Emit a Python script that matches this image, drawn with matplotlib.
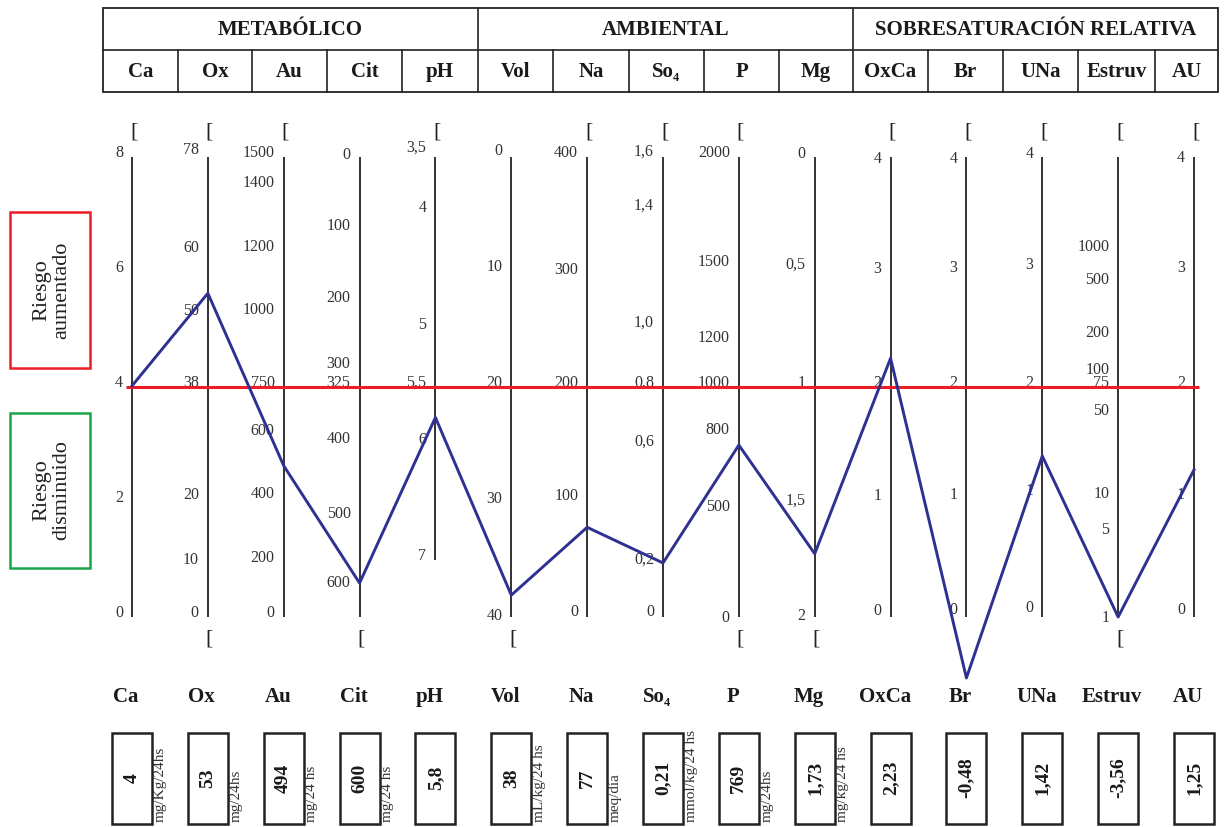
import matplotlib
matplotlib.use("Agg")
import matplotlib.pyplot as plt
import matplotlib.transforms as mtransforms
from matplotlib.patches import Rectangle

plt.rcParams['font.family'] = ['Liberation Serif', 'DejaVu Serif']

# --- data ---
params = ['Ca', 'Ox', 'Au', 'Cit', 'pH', 'Vol', 'Na', 'So₄', 'P', 'Mg',
          'OxCa', 'Br', 'UNa', 'Estruv', 'AU']
groups = ['METABÓLICO', 'AMBIENTAL', 'SOBRESATURACIÓN RELATIVA']
group_size = [5, 5, 5]
values_txt = ['4', '53', '494', '600', '5,8', '38', '77', '0,21', '769', '1,73',
              '2,23', '-0,48', '1,42', '-3,56', '1,25']
units = ['mg/Kg/24hs', 'mg/24hs', 'mg/24 hs', 'mg/24 hs', '', 'mL/kg/24 hs',
         'meq/día', 'mmol/kg/24 hs', 'mg/24hs', 'mg/kg/24 hs', '', '', '', '', '']

# patient profile on the common 0-8 risk scale
score = [4.02, 5.63, 2.63, 0.59, 3.47, 0.38, 1.56, 0.94, 2.99, 1.10,
         4.50, -1.06, 2.80, 0.0, 2.56]
threshold = 4

# scale labels of each parallel axis and where they sit on the 0-8 scale
tick_labels = [
    ['8', '6', '4', '2', '0'],
    ['78', '60', '50', '38', '20', '10', '0'],
    ['1500', '1400', '1200', '1000', '750', '600', '400', '200', '0'],
    ['0', '100', '200', '300', '325', '400', '500', '600'],
    ['3,5', '4', '5', '5,5', '6', '7'],
    ['0', '10', '20', '30', '40'],
    ['400', '300', '200', '100', '0'],
    ['1,6', '1,4', '1,0', '0,8', '0,6', '0,2', '0'],
    ['2000', '1500', '1200', '1000', '800', '500', '0'],
    ['0', '0,5', '1', '1,5', '2'],
    ['4', '3', '2', '1', '0'],
    ['4', '3', '2', '1', '0'],
    ['4', '3', '2', '1', '0'],
    ['1000', '500', '200', '100', '75', '50', '10', '5', '1'],
    ['4', '3', '2', '1', '0'],
]
tick_pos = [
    [8, 6, 4, 2, 0],
    [8.05, 6.35, 5.25, 4, 2.05, 0.92, 0],
    [8, 7.47, 6.37, 5.27, 4, 3.17, 2.07, 0.96, 0],
    [7.96, 6.73, 5.48, 4.33, 4, 3.02, 1.73, 0.53],
    [8.1, 7.04, 5.0, 4, 3.0, 0.99],
    [8.03, 6.02, 4, 1.98, -0.05],
    [8, 5.96, 4, 2.03, 0.02],
    [8.02, 7.08, 5.05, 4, 2.98, 0.92, 0.02],
    [8, 6.1, 4.79, 4, 3.19, 1.84, -0.08],
    [7.98, 6.05, 4, 1.95, -0.05],
    [7.89, 5.98, 4, 2.03, 0.03],
    [7.9, 6, 4, 2.05, 0.05],
    [7.99, 6.06, 4, 2.12, 0.09],
    [6.37, 5.79, 4.87, 4.23, 4, 3.51, 2.07, 1.44, -0.09],
    [7.92, 6, 4, 2.05, 0.05],
]
axis_low = [0, 0, 0, 0, 1.0, 0, 0, 0, 0, 0, 0, 0, 0, 0, 0]
axis_high = 8
top_brackets = [0, 1, 2, 4, 6, 7, 8, 10, 11, 12, 13, 14]
bottom_brackets = [1, 3, 5, 8, 9, 13]

# header table column borders (pixels)
col_edges = [103, 178, 252, 327, 402, 478, 553, 629, 704, 779, 853, 928, 1003, 1078, 1155, 1218]

# --- figure ---
fig = plt.figure(figsize=(12.3, 8.27), dpi=100)
deco = fig.add_axes([0, 0, 1, 1])
deco.set_xlim(0, 1230)
deco.set_ylim(827, 0)
deco.axis('off')

ax = fig.add_axes([0, 0, 1, 1])
ax.patch.set_alpha(0)
px_x = 75.857
px_y = 57.5
ax.set_xlim(-132 / px_x, (1230 - 132) / px_x)
ax.set_ylim(-210 / px_y, 617 / px_y)
ax.axis('off')

idx = list(range(len(params)))
ink = '#222222'

# parallel axes
ax.vlines(idx, axis_low, axis_high, color=ink, lw=1.3, zorder=2)

# scale labels
lab_tr = mtransforms.offset_copy(ax.transData, fig=fig, x=-9, y=4, units='dots')
for i in idx:
    for t, p in zip(tick_labels[i], tick_pos[i]):
        ax.text(i, p, t, transform=lab_tr, ha='right', va='center',
                fontsize=11.5, color='#333333', zorder=1)

# brackets
top_tr = mtransforms.offset_copy(ax.transData, fig=fig, x=-2, y=25, units='dots')
bot_tr = mtransforms.offset_copy(ax.transData, fig=fig, x=-2, y=-22, units='dots')
for i in top_brackets:
    ax.text(i, axis_high, '[', transform=top_tr, ha='left', va='center',
            fontsize=16, color=ink)
for i in bottom_brackets:
    ax.text(i, 0, '[', transform=bot_tr, ha='left', va='center',
            fontsize=16, color=ink)

# threshold and profile
ax.hlines(threshold, -0.08, len(params) - 1 + 0.07, color='#ee1c25', lw=2.2, zorder=3)
ax.plot(idx, score, color='#2e3192', lw=2.1, zorder=4)

# header table
bold = dict(fontweight='bold', color='#1a1a1a')
deco.add_patch(Rectangle((col_edges[0], 8), col_edges[-1] - col_edges[0], 84,
                         fill=False, lw=1.3, ec=ink))
deco.plot([col_edges[0], col_edges[-1]], [50, 50], color=ink, lw=1.2)
for k, e in enumerate(col_edges[1:-1], start=1):
    top = 8 if k % 5 == 0 else 50
    deco.plot([e, e], [top, 92], color=ink, lw=1.2)
start = 0
for g, n in zip(groups, group_size):
    x0, x1 = col_edges[start], col_edges[start + n]
    deco.text((x0 + x1) / 2, 30, g, ha='center', va='center', fontsize=15, **bold)
    start += n
for k, p in enumerate(params):
    deco.text((col_edges[k] + col_edges[k + 1]) / 2, 72, p, ha='center', va='center',
              fontsize=15, **bold)

# risk boxes on the left
deco.add_patch(Rectangle((10, 212), 80, 156, fill=False, lw=1.8, ec='#ee1c25'))
deco.add_patch(Rectangle((10, 413), 80, 155, fill=False, lw=1.8, ec='#1aa64a'))
deco.text(52, 290, 'Riesgo\naumentado', rotation=90, ha='center', va='center',
          fontsize=16, linespacing=1.05, color='#222222')
deco.text(52, 490, 'Riesgo\ndisminuido', rotation=90, ha='center', va='center',
          fontsize=16, linespacing=1.05, color='#222222')

# bottom labels and value boxes
bt = mtransforms.blended_transform_factory(ax.transData, deco.transData)
box_w = 40 / px_x
name_tr = mtransforms.offset_copy(bt, fig=fig, x=-6, y=0, units='dots')
for i in idx:
    ax.text(i, 697, params[i], transform=name_tr, ha='center', va='center',
            fontsize=15, **bold)
    ax.add_patch(Rectangle((i - box_w / 2, 733), box_w, 91, fill=False, lw=1.8,
                           ec=ink, transform=bt))
    ax.text(i, 778, values_txt[i], transform=bt, rotation=90, ha='center',
            va='center', fontsize=14, **bold)
    if units[i]:
        ax.text(i + box_w / 2 + 0.02, 822, units[i], transform=bt, rotation=90,
                rotation_mode='anchor', ha='left', va='top', fontsize=11,
                color='#333333')

fig.savefig('out.png', dpi=100)
